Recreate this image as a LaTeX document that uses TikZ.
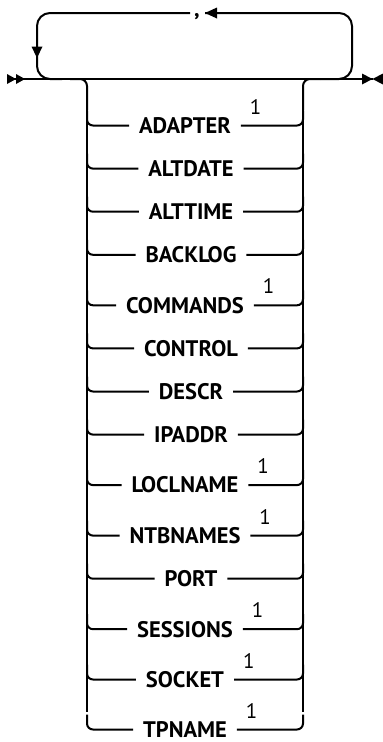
\documentclass[tikz,border=0pt]{standalone}
\usepackage{fontspec}
\setmainfont{PT Sans}
\begin{document}
\begin{tikzpicture}[x=1pt,y=-1pt,line width=2pt,
  lbl/.style={font=\bfseries\fontsize{22.5}{26}\selectfont,inner xsep=9pt,inner ysep=0pt,anchor=center},
  supn/.style={font=\fontsize{21}{24}\selectfont,inner sep=0pt,anchor=base west},
  tipfill/.style={fill=black,draw=none}]
\useasboundingbox (0,0) rectangle (383,742);
% main line
\coordinate (start) at (7,79);
\coordinate (finish) at (372.5,79);
\draw (start) -- (finish);
\fill[tipfill] (7,74) -- (16,79) -- (7,84) -- cycle;
\fill[tipfill] (16,74) -- (25,79) -- (16,84) -- cycle;
\fill[tipfill] (362,73.5) -- (372.5,79) -- (362,84.5) -- cycle;
\fill[tipfill] (383,73.5) -- (372.5,79) -- (383,84.5) -- cycle;
% repeat loop
\coordinate (lpR) at (320,79);
\coordinate (lpRtop) at (352,13);
\coordinate (arrtip) at (205,13);
\coordinate (cmL) at (190,13);
\coordinate (lpL) at (37,79);
\coordinate (lpLend) at (62,79);
\draw[rounded corners=13pt] (lpR) -| (lpRtop) -- (arrtip);
\draw[rounded corners=13pt] (cmL) -| (lpL) -- (lpLend);
\fill[tipfill] (205,13) -- (217,7.5) -- (217,18.5) -- cycle;
\fill[tipfill] (31.5,46.5) -- (42.5,46.5) -- (37,58) -- cycle;
\node[font=\bfseries\fontsize{22}{24}\selectfont,inner sep=0pt,anchor=base] (comma) at (197,16) {,};
% choice bracket
\coordinate (bl0) at (70,79);
\coordinate (bl1) at (87,110);
\coordinate (bl2) at (87,712);
\coordinate (br0) at (320,79);
\coordinate (br1) at (303,110);
\coordinate (br2) at (303,712);
\draw[rounded corners=7pt] (bl0) -| (bl1);
\draw (87,105) -- (bl2);
\draw[rounded corners=7pt] (br0) -| (br1);
\draw (303,105) -- (br2);
\foreach \i/\lab/\yy/\s in {1/ADAPTER/125.5/1,2/ALTDATE/168.6/0,3/ALTTIME/211.7/0,4/BACKLOG/254.8/0,
  5/COMMANDS/305.3/1,6/CONTROL/348.4/0,7/DESCR/391.5/0,8/IPADDR/434.6/0,9/LOCLNAME/485.1/1,
  10/NTBNAMES/535.6/1,11/PORT/578.7/0,12/SESSIONS/629.2/1,13/SOCKET/679.5/1,14/TPNAME/729.5/1}{
  \ifnum\s=1
    \node[lbl] (r\i) at (185,\yy) {\lab};
    \node[supn] (s\i) at ([xshift=8pt,yshift=11.5pt]r\i.east) {1};
  \else
    \node[lbl] (r\i) at (191,\yy) {\lab};
  \fi
  \draw[rounded corners=6pt] (87,\yy-15) |- (r\i.west);
  \draw[rounded corners=6pt] (r\i.east) -| (303,\yy-15);
}
\end{tikzpicture}
\end{document}
